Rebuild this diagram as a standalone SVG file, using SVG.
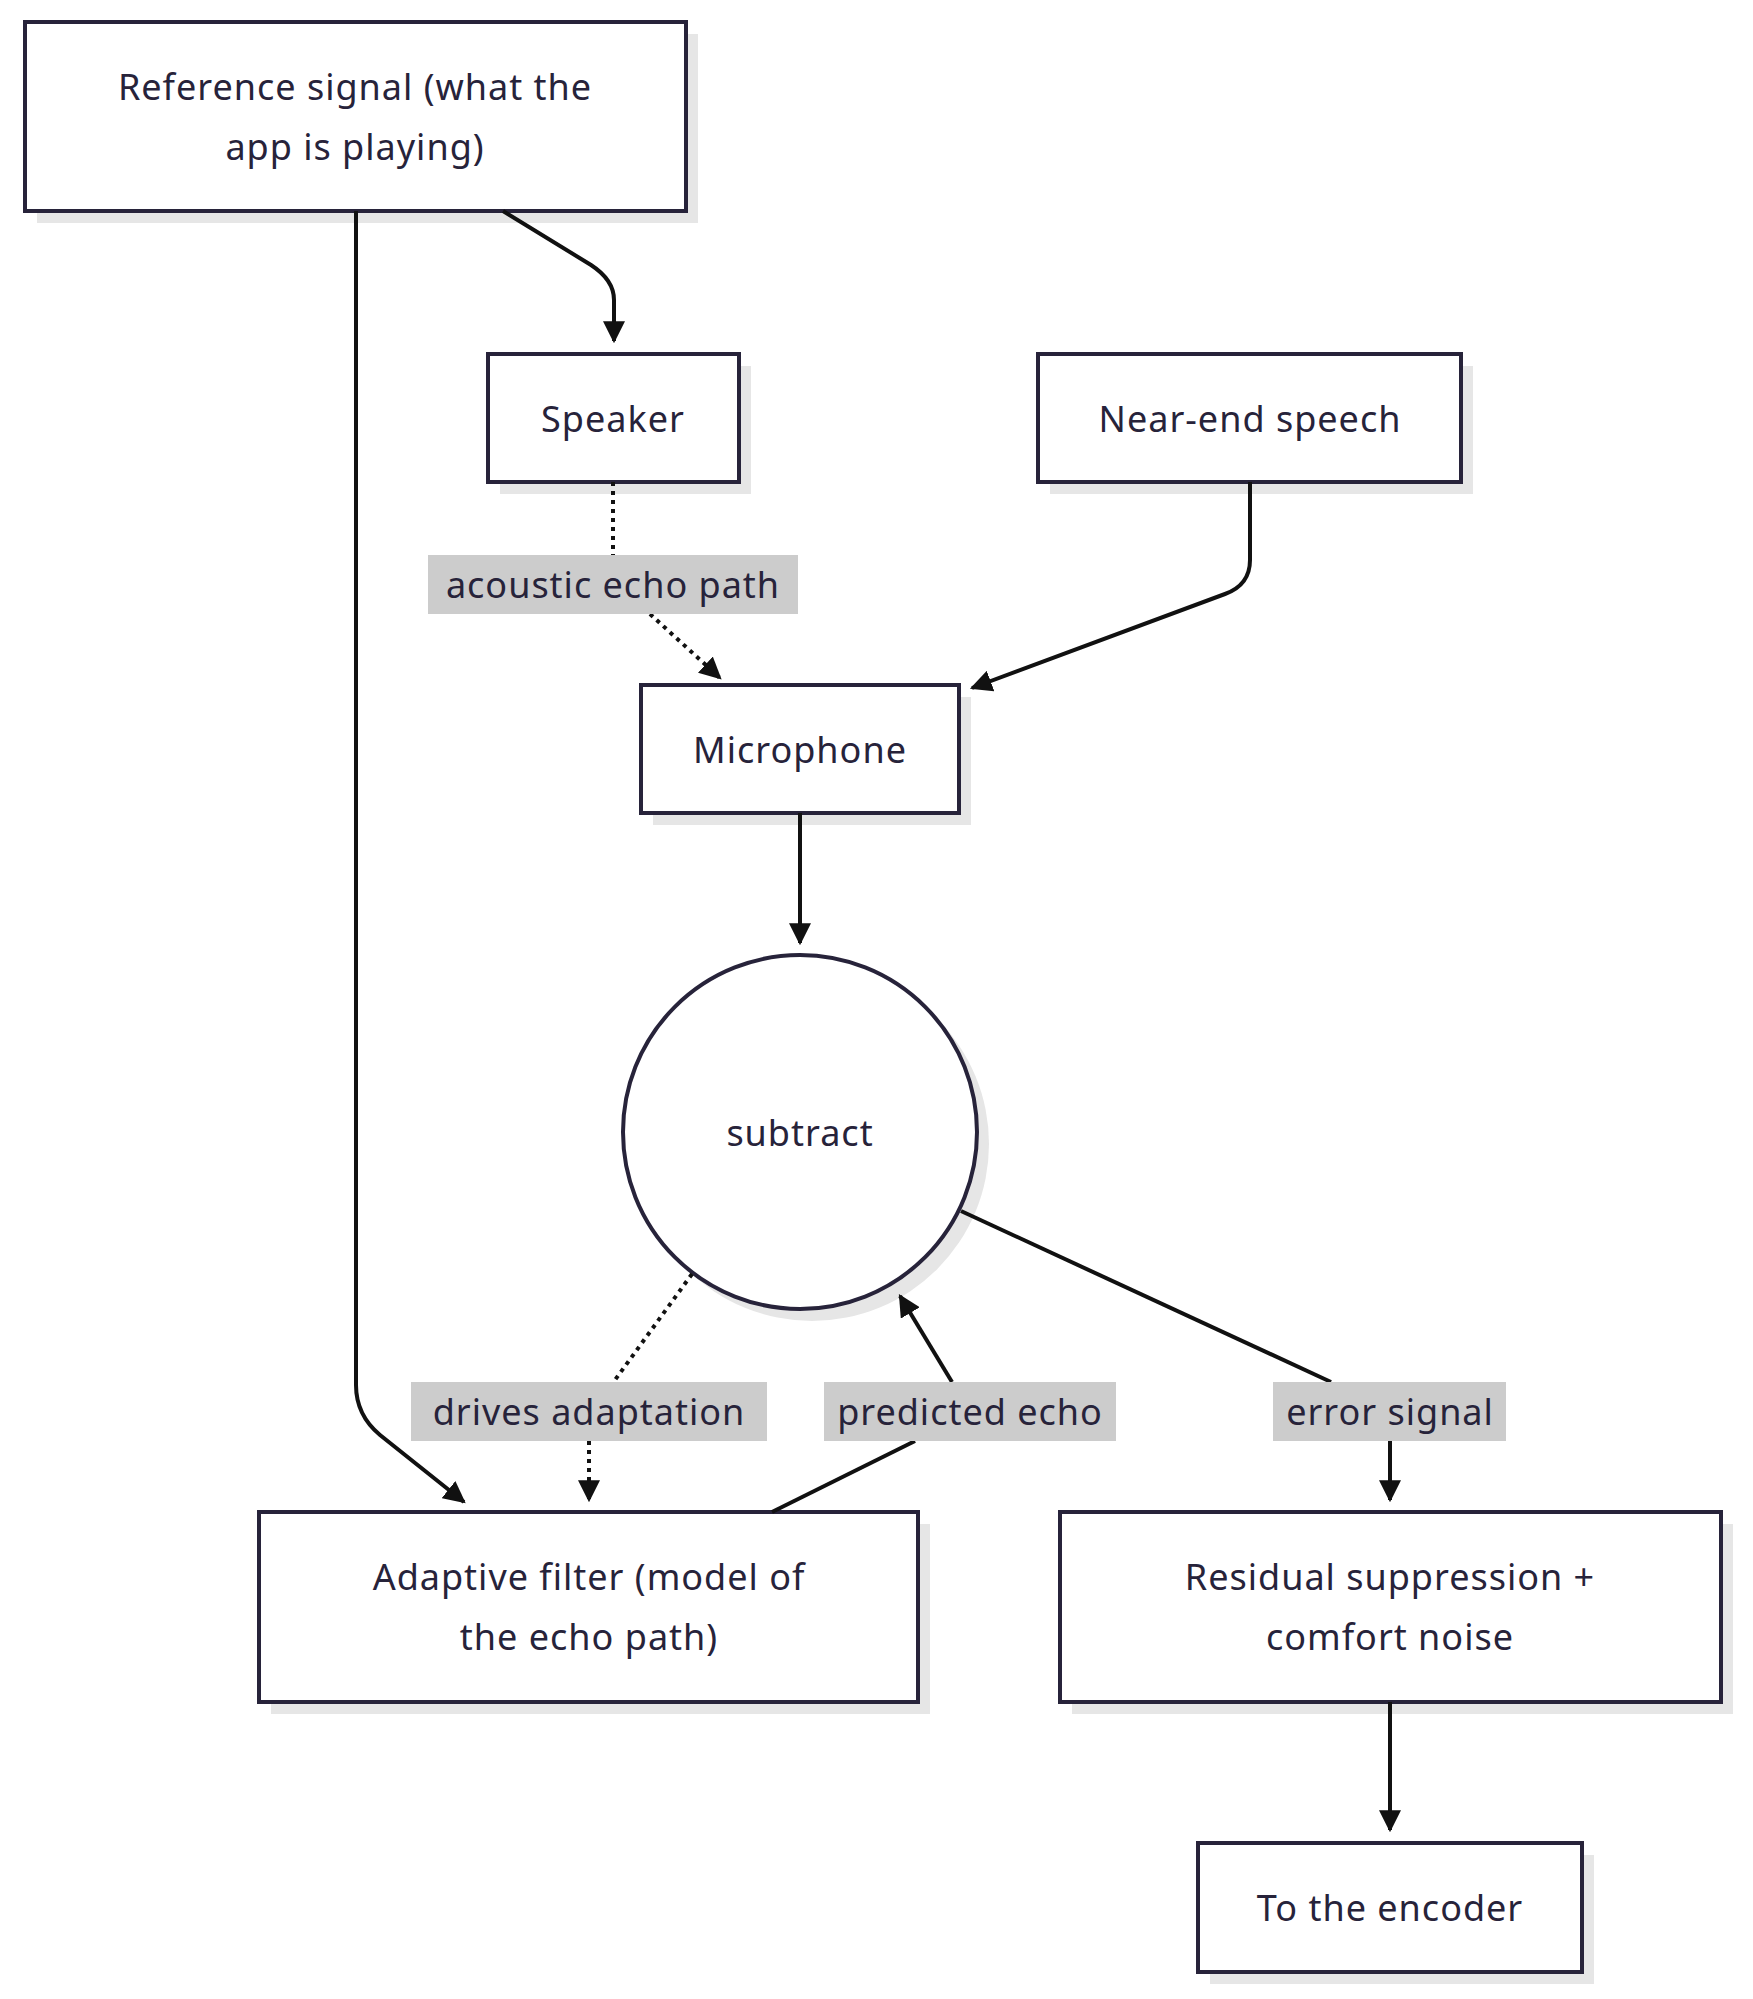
<svg xmlns="http://www.w3.org/2000/svg" width="1753" height="1999" viewBox="0 0 1753 1999">
<style>
.n{fill:#fff;stroke:#27233a;stroke-width:4}
.s{fill:#e6e6e6}
.t{font-family:"Noto Sans","DejaVu Sans",sans-serif;font-size:36px;fill:#27233a;text-anchor:middle;dominant-baseline:central;letter-spacing:1px}
.e{fill:none;stroke:#111;stroke-width:4}
.d{stroke-dasharray:4 5}
.lb{fill:#cccccc}
</style>
<defs><marker id="a" viewBox="0 0 10 10" refX="9" refY="5" markerWidth="5.5" markerHeight="5.5" orient="auto" markerUnits="strokeWidth"><path d="M0,0L10,5L0,10z" fill="#111"/></marker></defs>
<rect width="1753" height="1999" fill="#fff"/>
<g id="ref"><rect class="s" x="37" y="34" width="661" height="189"/><rect class="n" x="25" y="22" width="661" height="189"/><text class="t" x="355" y="86">Reference signal (what the</text><text class="t" x="355" y="146">app is playing)</text></g>
<g id="speaker"><rect class="s" x="500" y="366" width="251" height="128"/><rect class="n" x="488" y="354" width="251" height="128"/><text class="t" x="613" y="418">Speaker</text></g>
<g id="near"><rect class="s" x="1050" y="366" width="423" height="128"/><rect class="n" x="1038" y="354" width="423" height="128"/><text class="t" x="1250" y="418">Near-end speech</text></g>
<g id="mic"><rect class="s" x="653" y="697" width="318" height="128"/><rect class="n" x="641" y="685" width="318" height="128"/><text class="t" x="800" y="749">Microphone</text></g>
<g id="subtract"><circle class="s" cx="812" cy="1144" r="177"/><circle class="n" cx="800" cy="1132" r="177"/><text class="t" x="800" y="1132">subtract</text></g>
<g id="adaptive"><rect class="s" x="271" y="1524" width="659" height="190"/><rect class="n" x="259" y="1512" width="659" height="190"/><text class="t" x="589" y="1576">Adaptive filter (model of</text><text class="t" x="589" y="1636">the echo path)</text></g>
<g id="residual"><rect class="s" x="1072" y="1524" width="661" height="190"/><rect class="n" x="1060" y="1512" width="661" height="190"/><text class="t" x="1390" y="1576">Residual suppression +</text><text class="t" x="1390" y="1636">comfort noise</text></g>
<g id="encoder"><rect class="s" x="1210" y="1855" width="384" height="129"/><rect class="n" x="1198" y="1843" width="384" height="129"/><text class="t" x="1390" y="1907">To the encoder</text></g>
<g id="edges">
<path class="e" d="M503,211 L591,265 Q614,280 614,300 L614,341" marker-end="url(#a)"/>
<path class="e" d="M356,211 L356,1385 Q356,1415 380,1435 L464,1502" marker-end="url(#a)"/>
<path class="e d" d="M613,482 L613,555"/>
<path class="e d" d="M650,614 L720,678" marker-end="url(#a)"/>
<path class="e" d="M1250,482 L1250,560 Q1250,585 1225,594 L972,688" marker-end="url(#a)"/>
<path class="e" d="M800,813 L800,943" marker-end="url(#a)"/>
<path class="e d" d="M692,1274 L615,1380"/>
<path class="e d" d="M589,1441 L589,1500" marker-end="url(#a)"/>
<path class="e" d="M772,1512 L915,1441"/>
<path class="e" d="M952,1382 L900,1296" marker-end="url(#a)"/>
<path class="e" d="M961,1211 L1331,1382"/>
<path class="e" d="M1390,1441 L1390,1500" marker-end="url(#a)"/>
<path class="e" d="M1390,1702 L1390,1830" marker-end="url(#a)"/>
</g>
<g id="labels">
<rect class="lb" x="428" y="555" width="370" height="59"/><text class="t" x="613" y="584">acoustic echo path</text>
<rect class="lb" x="411" y="1382" width="356" height="59"/><text class="t" x="589" y="1411">drives adaptation</text>
<rect class="lb" x="824" y="1382" width="292" height="59"/><text class="t" x="970" y="1411">predicted echo</text>
<rect class="lb" x="1273" y="1382" width="233" height="59"/><text class="t" x="1390" y="1411">error signal</text>
</g>
</svg>
